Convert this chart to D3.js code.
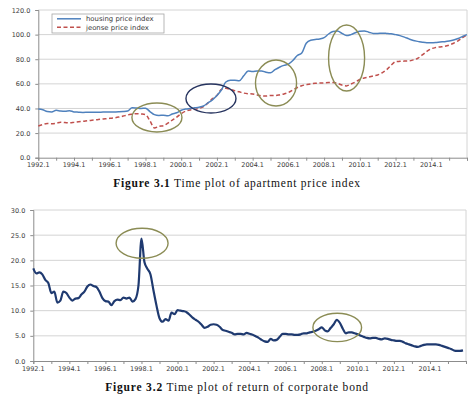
<!DOCTYPE html>
<html><head><meta charset="utf-8">
<script src="https://cdn.jsdelivr.net/npm/d3@7/dist/d3.min.js"></script>
<style>body{margin:0;background:#fff}svg{display:block}</style>
</head><body>
<svg id="c" width="474" height="394"></svg>
<script>
// ---------- DATA ----------
const startYear = 1992;
const totalMonths = 288; // 1992.1 .. 2015.12
const xTickLabels = ["1992.1","1994.1","1996.1","1998.1","2000.1","2002.1","2004.1","2006.1","2008.1","2010.1","2012.1","2014.1"];

// quarterly readings (every 3 months from 1992.1)
const priceStepMonths = 3;
const housingIndex = [
 39.5,39.0,37.5,37.2, 38.5,38.0,37.8,38.2, 37.2,37.0,36.8,36.9, 37.0,37.0,37.0,37.1,
 37.1,37.2,37.3,37.5, 38.0,40.5,40.3,40.0, 40.2,37.5,35.0,34.3, 34.5,34.0,35.5,36.5,
 38.5,39.5,40.0,40.5, 41.0,42.0,44.5,47.0, 50.5,55.0,61.5,63.0, 63.0,62.5,66.5,70.5,
 70.0,70.5,70.5,69.5, 69.0,71.5,73.5,75.0, 76.0,79.0,83.0,85.0, 93.0,95.5,96.0,96.5,
 97.5,100.5,102.5,103.0, 101.0,99.2,100.0,101.5, 102.8,103.0,102.0,101.0, 101.0,101.2,101.0,100.7,
 100.0,99.2,98.0,96.5, 95.2,94.5,93.8,93.4, 93.4,93.6,94.0,94.3, 94.8,95.6,96.8,98.5, 100.0
];
const jeonseIndex = [
 25.8,27.0,27.8,27.5, 28.0,28.8,28.5,28.3, 28.7,29.2,29.5,30.0, 30.4,30.8,31.3,31.6,
 32.0,32.4,33.0,33.8, 34.7,35.3,35.8,35.5, 35.0,30.0,24.2,25.5, 26.0,28.0,30.5,33.0,
 35.8,37.8,38.8,39.3, 40.0,41.5,44.5,48.0, 50.5,55.5,56.4,55.5, 54.4,53.5,52.5,52.0,
 51.8,51.0,50.3,50.1, 50.5,50.5,51.0,51.8, 53.0,55.0,57.0,58.5, 59.3,60.0,60.4,60.6,
 60.8,61.0,61.0,60.4, 59.0,58.3,59.8,61.5, 63.5,64.8,65.5,66.5, 67.2,69.0,71.5,75.0,
 78.0,78.3,78.5,78.6, 79.5,80.8,83.5,86.3, 88.5,89.5,90.0,90.5, 91.5,93.0,95.0,97.5, 100.0
];

// bimonthly readings (every 2 months from 1992.1)
const bondStepMonths = 2;
const bondReturn = [
 18.4,17.4,17.6,17.2,16.1,15.5, 13.5,13.8,11.6,12.0,13.8,13.5,
 12.6,12.0,12.4,12.5,13.2,13.8, 14.8,15.2,14.9,14.7,13.8,12.5,
 11.9,11.8,11.1,11.9,12.2,12.1, 12.6,12.4,12.6,11.8,12.3,15.0,
 24.3,19.6,18.3,17.2,14.0,11.0, 8.5,7.8,8.3,8.0,9.6,9.3,
 10.1,10.0,9.9,9.7,9.2,8.6, 8.2,7.8,7.2,6.6,6.8,7.2,
 7.3,7.2,6.8,6.2,6.0,5.8, 5.6,5.3,5.4,5.4,5.3,5.6,
 5.4,5.2,4.9,4.6,4.2,3.9, 3.8,4.4,4.1,4.2,4.8,5.4,
 5.4,5.3,5.3,5.2,5.2,5.3, 5.5,5.5,5.7,5.8,6.0,6.3,
 6.7,6.1,5.9,6.6,7.3,8.2, 7.6,6.4,5.5,5.7,5.7,5.5,
 5.3,5.0,4.8,4.6,4.5,4.6, 4.6,4.4,4.3,4.5,4.4,4.2,
 4.1,4.0,4.0,3.8,3.5,3.3, 3.1,2.9,2.8,3.0,3.2,3.3,
 3.3,3.3,3.3,3.2,3.0,2.8, 2.6,2.4,2.1,2.0,2.0,2.1
];

const priceTicks = [0,20,40,60,80,100,120];
const bondTicks = [0,5,10,15,20,25,30];
const legendNames = ["housing price index","jeonse price index"];
const captionBold = ["Figure 3.1","Figure 3.2"];
const captionText = [" Time plot of apartment price index"," Time plot of return of corporate bond"];

// annotation ellipses in data units: month index, value, radius in months, radius in value units
const priceMarks = [
  {m:79.7, v:32.7, rm:16.8, rv:11.8, c:"olive"},
  {m:116.0,v:48.1, rm:16.8, rv:11.8, c:"navy"},
  {m:159.7,v:60.7, rm:13.8, rv:18.7, c:"olive"},
  {m:207.1,v:81.0, rm:12.1, rv:26.8, c:"olive"}
];
const bondMarks = [
  {m:72.4, v:23.4, rm:17.3, rv:2.98, c:"olive"},
  {m:202.3,v:6.66, rm:16.2, rv:2.82, c:"olive"}
];

// ---------- STYLE ----------
const colors = {housing:"#4f81bd", jeonse:"#c0504d", bond:"#1f3a70",
  olive:"#8b8c55", navy:"#27345f", grid:"#d4d4d4", axis:"#8c8c8c", text:"#3a3a3a"};
const tickFont = "'DejaVu Sans', Verdana, sans-serif";

const svg = d3.select("#c");

function labelToMonth(l){ const [y,m]=l.split("."); return (+y-startYear)*12 + (+m-1); }

function drawPanel(opt){
  const x = d3.scaleLinear().domain([0,totalMonths]).range([opt.left, opt.right]);
  const y = d3.scaleLinear().domain([0,opt.ticks[opt.ticks.length-1]]).range([opt.bottom, opt.top]);
  const g = svg.append("g");

  g.append("g").selectAll("line").data(opt.ticks.filter(t=>t>0)).join("line")
    .attr("x1",opt.left).attr("x2",opt.right)
    .attr("y1",d=>y(d)).attr("y2",d=>y(d))
    .attr("stroke",colors.grid).attr("stroke-width",1);
  g.append("line").attr("x1",opt.right).attr("x2",opt.right).attr("y1",opt.top).attr("y2",opt.bottom)
    .attr("stroke",colors.grid).attr("stroke-width",1);

  const ya = d3.axisLeft(y).tickValues(opt.ticks).tickFormat(d3.format(".1f")).tickSize(3).tickPadding(opt.yPad);
  const yg = g.append("g").attr("transform",`translate(${opt.left},0)`).call(ya);
  yg.select(".domain").attr("stroke",colors.axis);
  yg.selectAll(".tick line").attr("stroke",colors.axis);
  yg.selectAll("text").attr("font-family",tickFont).attr("font-size",6.5).attr("fill",colors.text);

  const yearTicks = d3.range(0, totalMonths+1, 12);
  const xa = d3.axisBottom(x).tickValues(yearTicks).tickSize(3).tickFormat("");
  const xg = g.append("g").attr("transform",`translate(0,${opt.bottom})`).call(xa);
  xg.select(".domain").attr("stroke",colors.axis);
  xg.selectAll(".tick line").attr("stroke",colors.axis);
  g.append("g").selectAll("text").data(xTickLabels).join("text")
    .attr("x",d=>x(labelToMonth(d))).attr("y",opt.bottom+opt.xLabelDy)
    .attr("text-anchor","middle").attr("font-family",tickFont).attr("font-size",6.5)
    .attr("fill",colors.text).text(d=>d);

  opt.series.forEach(s=>{
    const line = d3.line().x((d,i)=>x(i*s.step)).y(d=>y(d)).curve(d3.curveMonotoneX);
    g.append("path").datum(s.values).attr("d",line).attr("fill","none")
      .attr("stroke",s.color).attr("stroke-width",s.width)
      .attr("stroke-dasharray",s.dash||null).attr("stroke-linejoin","round");
  });

  g.append("g").selectAll("ellipse").data(opt.marks).join("ellipse")
    .attr("cx",d=>x(d.m)).attr("cy",d=>y(d.v))
    .attr("rx",d=>x(d.rm)-x(0)).attr("ry",d=>y(0)-y(d.rv))
    .attr("fill","none").attr("stroke",d=>colors[d.c]).attr("stroke-width",1.4);
  return {x,y,g};
}

const p1 = drawPanel({left:38.3,right:467,top:10,bottom:157.7,ticks:priceTicks,yPad:5,xLabelDy:9,
  series:[
    {values:jeonseIndex, step:priceStepMonths, color:colors.jeonse, width:1.5, dash:"4,2.5"},
    {values:housingIndex, step:priceStepMonths, color:colors.housing, width:1.5}
  ], marks:priceMarks});

const lg = svg.append("g");
lg.append("rect").attr("x",52).attr("y",14).attr("width",112).attr("height",19)
  .attr("fill","#fff").attr("stroke","#a6a6a6").attr("stroke-width",0.8);
const legendStyles = [{color:colors.housing,dash:null},{color:colors.jeonse,dash:"4,2.5"}];
legendNames.forEach((n,i)=>{
  const yy = 18.8 + i*8.4;
  lg.append("line").attr("x1",57).attr("x2",81).attr("y1",yy).attr("y2",yy)
    .attr("stroke",legendStyles[i].color).attr("stroke-width",1.5).attr("stroke-dasharray",legendStyles[i].dash);
  lg.append("text").attr("x",86).attr("y",yy+2.3).attr("font-family",tickFont).attr("font-size",6.9)
    .attr("fill",colors.text).text(n);
});

const p2 = drawPanel({left:33.3,right:466,top:210,bottom:361,ticks:bondTicks,yPad:5,xLabelDy:9.5,
  series:[{values:bondReturn, step:bondStepMonths, color:colors.bond, width:2.2}],
  marks:bondMarks});

// captions (Computer-Modern-like width emulated with letter spacing)
const captionWidths = [247, 263];
[183.5, 387.5].forEach((cy,i)=>{
  const t = svg.append("text").attr("x",237).attr("y",cy+3.5).attr("text-anchor","middle")
    .attr("font-family","'Liberation Serif','Times New Roman',serif").attr("font-size",11.5).attr("fill","#111");
  t.append("tspan").attr("font-weight","bold").text(captionBold[i]);
  t.append("tspan").text(captionText[i]);
  const w = t.node().getComputedTextLength();
  const n = (captionBold[i]+captionText[i]).length;
  const ls = Math.max(0,(captionWidths[i]-w)/(n-1));
  t.attr("letter-spacing", ls.toFixed(2));
});
</script>
</body></html>
